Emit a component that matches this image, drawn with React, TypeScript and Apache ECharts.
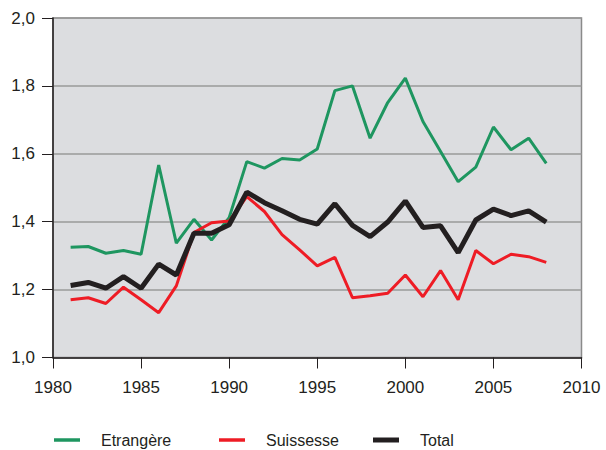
import React, { useEffect, useRef } from "react";
import * as echarts from "echarts";

const years = [1981, 1982, 1983, 1984, 1985, 1986, 1987, 1988, 1989, 1990, 1991, 1992, 1993, 1994, 1995, 1996, 1997, 1998, 1999, 2000, 2001, 2002, 2003, 2004, 2005, 2006, 2007, 2008];

const etrangere = [1.325, 1.327, 1.307, 1.315, 1.304, 1.567, 1.337, 1.407, 1.346, 1.412, 1.577, 1.558, 1.586, 1.582, 1.614, 1.786, 1.800, 1.646, 1.751, 1.823, 1.695, 1.607, 1.518, 1.561, 1.679, 1.612, 1.646, 1.572];

const suissesse = [1.170, 1.176, 1.159, 1.207, 1.170, 1.132, 1.211, 1.368, 1.397, 1.402, 1.474, 1.430, 1.362, 1.317, 1.270, 1.295, 1.176, 1.182, 1.189, 1.243, 1.179, 1.256, 1.170, 1.315, 1.276, 1.304, 1.297, 1.280];

const total = [1.212, 1.221, 1.204, 1.238, 1.204, 1.275, 1.243, 1.366, 1.366, 1.391, 1.487, 1.456, 1.432, 1.407, 1.393, 1.453, 1.389, 1.356, 1.399, 1.461, 1.383, 1.388, 1.309, 1.405, 1.437, 1.418, 1.432, 1.399];

const seriesNames = ["Etrangère", "Suissesse", "Total"];
const seriesColors = ["#1e9660", "#ee1c25", "#231f20"];

const pair = (vals: number[]) => years.map((y, i) => [y, vals[i]]);

export default function App() {
  const ref = useRef<HTMLDivElement>(null);
  useEffect(() => {
    if (!ref.current) return;
    const chart = echarts.init(ref.current, null, { renderer: "svg" });
    const font = "'Liberation Sans', Arial, sans-serif";
    const legendBase = (name: string, left: number, h: number) => ({
      show: true,
      data: [{ name, icon: "rect" }],
      left,
      top: 431,
      padding: 0,
      itemWidth: 26,
      itemHeight: h,
      selectedMode: false,
      textStyle: {
        fontFamily: font,
        fontSize: 16,
        color: "#231f20",
        lineHeight: 18,
        padding: [0, 0, 0, 16],
      },
    });
    chart.setOption({
      animation: false,
      backgroundColor: "#ffffff",
      grid: {
        left: 53,
        right: 24.5,
        top: 18,
        bottom: 92.5,
        show: true,
        backgroundColor: "#dcdde0",
        borderColor: "#8a8a8a",
        borderWidth: 1.5,
      },
      legend: [
        legendBase(seriesNames[0], 54, 3.5),
        legendBase(seriesNames[1], 219, 3.5),
        legendBase(seriesNames[2], 373, 5),
      ],
      xAxis: {
        type: "value",
        min: 1980,
        max: 2010,
        interval: 5,
        axisLine: { show: true, onZero: false, lineStyle: { color: "#231f20", width: 1.5 } },
        axisTick: { show: true, inside: false, length: 11, lineStyle: { color: "#231f20", width: 1 } },
        axisLabel: {
          fontFamily: font,
          fontSize: 17,
          color: "#231f20",
          margin: 21,
          formatter: (v: number) => String(v),
        },
        splitLine: { show: false },
      },
      yAxis: {
        type: "value",
        min: 1.0,
        max: 2.0,
        interval: 0.2,
        axisLine: { show: true, lineStyle: { color: "#231f20", width: 1.5 } },
        axisTick: { show: true, inside: false, length: 11, lineStyle: { color: "#231f20", width: 1 } },
        axisLabel: {
          fontFamily: font,
          fontSize: 17,
          color: "#231f20",
          margin: 18,
          formatter: (v: number) => v.toFixed(1).replace(".", ","),
        },
        splitLine: { show: true, lineStyle: { color: "#9a9a9a", width: 1.5 } },
      },
      series: [
        {
          name: seriesNames[0],
          type: "line",
          data: pair(etrangere),
          symbol: "none",
          lineStyle: { color: seriesColors[0], width: 3 },
          itemStyle: { color: seriesColors[0] },
          z: 2,
        },
        {
          name: seriesNames[1],
          type: "line",
          data: pair(suissesse),
          symbol: "none",
          lineStyle: { color: seriesColors[1], width: 3 },
          itemStyle: { color: seriesColors[1] },
          z: 3,
        },
        {
          name: seriesNames[2],
          type: "line",
          data: pair(total),
          symbol: "none",
          lineStyle: { color: seriesColors[2], width: 5 },
          itemStyle: { color: seriesColors[2] },
          z: 4,
        },
      ],
    });
    return () => chart.dispose();
  }, []);
  return <div ref={ref} style={{ width: 606, height: 450, position: "absolute", left: 0, top: 0 }} />;
}
